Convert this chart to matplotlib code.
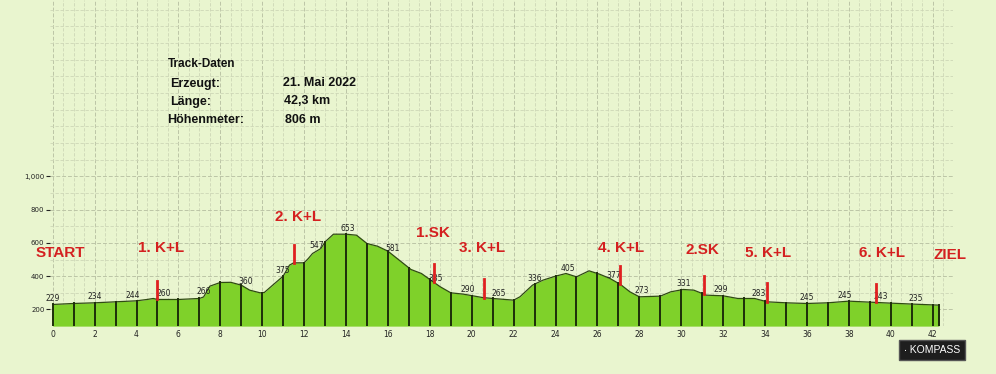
import numpy as np
import matplotlib.pyplot as plt
from matplotlib.ticker import MultipleLocator, FuncFormatter

# elevation profile (km, m)
km = [0, 1, 2, 3, 4, 4.5, 4.8, 5, 6, 7, 7.2, 7.5, 8, 8.5, 9.0, 9.4, 9.9, 10.1, 10.5,
      11, 11.3, 11.5, 12, 12.2, 12.4, 12.8, 13.0, 13.4, 14, 14.5, 15.0, 15.5, 16,
      16.5, 17.1, 17.6, 18.0, 18.5, 19.0, 19.6, 20.5, 21.0, 22.0, 22.3, 22.9, 23.4,
      24.0, 24.5, 25.0, 25.6, 26.1, 26.6, 27.1, 27.55, 28.0, 29.0, 29.5, 30.1, 30.6,
      31.2, 32.0, 32.7, 33.5, 34.1, 35.0, 36.0, 37.0, 38.0, 39.0, 40.0, 41.1, 42.3]
elev = [230, 236, 240, 246, 252, 260, 266, 260, 260, 266, 275, 340, 362, 363, 346, 316,
        300, 302, 346, 400, 466, 480, 480, 506, 536, 566, 606, 652, 652, 646, 596, 580,
        550, 500, 440, 416, 380, 336, 300, 292, 272, 266, 256, 276, 346, 376,
        400, 416, 396, 432, 412, 386, 350, 306, 276, 280, 306, 320, 316,
        286, 282, 266, 266, 246, 240, 236, 240, 250, 244, 238, 232, 226]

# point labels
lab_km = [0, 2, 3.8, 5.3, 7.2, 9.2, 11.0, 12.6, 14.1, 16.2, 18.3, 19.8, 21.3, 23.0,
          24.6, 26.8, 28.1, 30.1, 31.9, 33.7, 36.0, 37.8, 39.5, 41.2]
lab_val = [229, 234, 244, 260, 266, 360, 375, 547, 653, 581, 385, 290, 265, 336,
           405, 377, 273, 331, 299, 283, 245, 245, 243, 235]

# stations (red markers) and their captions
mark_km = [5.0, 11.5, 18.2, 20.6, 27.1, 31.1, 34.1, 39.3]
cap_txt = ['START', '1. K+L', '2. K+L', '1.SK', '3. K+L', '4. K+L', '2.SK', '5. K+L',
           '6. K+L', 'ZIEL']
cap_km = [0.35, 5.17, 11.69, 18.15, 20.49, 27.13, 31.02, 34.14, 39.59, 42.83]
cap_y = [538, 568, 754, 661, 568, 571, 556, 541, 541, 526]

info_keys = ['Erzeugt:', 'Länge:', 'Höhenmeter:']
info_vals = ['21. Mai 2022', '42,3 km', '806 m']

bg = '#e9f5cf'
fig = plt.figure(figsize=(9.96, 3.74), dpi=100, facecolor=bg)
ax = fig.add_axes([0.0502, 0.128, 0.9066, 0.872], facecolor=bg)
base = 100
ax.set_xlim(-0.13, 42.97)
ax.set_ylim(base, 2058)

# grid
ax.xaxis.set_minor_locator(MultipleLocator(0.5))
ax.yaxis.set_minor_locator(MultipleLocator(100))
ax.grid(which='minor', color='#cdd6b6', lw=0.6, ls=(0, (4, 2)))
ax.grid(which='major', color='#bcc5a6', lw=0.7, ls=(0, (4, 2)))
ax.set_axisbelow(True)

ax.fill_between(km, elev, base, color='#7fd12a', lw=0, zorder=2)
ax.plot(km, elev, color='#2f4a12', lw=0.9, zorder=3)
for k in range(43):
    e = np.interp(k, km, elev)
    ax.plot([k, k], [base, e], color='#1d2e0a', lw=1.4, zorder=3)
ax.plot([42.3, 42.3], [base, elev[-1]], color='#1d2e0a', lw=1.4, zorder=3)

for k, v in zip(lab_km, lab_val):
    ax.text(k, np.interp(k, km, elev) + 8, str(v), fontsize=5.5, ha='center',
            va='bottom', color='#222222', zorder=4)

for k in mark_km:
    e = np.interp(k, km, elev)
    ax.plot([k, k], [e, e + 110], color='#e02020', lw=2, zorder=4)

for k, y, t in zip(cap_km, cap_y, cap_txt):
    ax.text(k, y, t, fontsize=11, color='#d42020', ha='center', va='center',
            fontweight='bold', family='Liberation Sans', clip_on=False)

# info block
tf = dict(fontsize=9, fontweight='bold', family='Liberation Sans', color='#111111',
          transform=fig.transFigure, va='center')
fig.text(168 / 996, 1 - 64 / 374, 'Track-Daten', **dict(tf, fontsize=8.5))
for i, (a, b) in enumerate(zip(info_keys, info_vals)):
    y = 1 - (83.5 + 18 * i) / 374
    fig.text((170 - 3 * (i == 2)) / 996, y, a, **tf)
    fig.text((283 + 1 * i) / 996, y, b, **tf)

# ticks
ax.set_xticks(range(0, 43, 2))
ax.set_yticks([200, 400, 600, 800, 1000])
ax.yaxis.set_major_formatter(FuncFormatter(lambda v, p: f'{int(v):,}'))
ax.tick_params(axis='x', length=0, labelsize=5.5, pad=3, colors='#222222')
ax.tick_params(axis='y', length=3, width=0.8, labelsize=5, pad=1, colors='#222222')
ax.tick_params(which='minor', length=0)
for s in ax.spines.values():
    s.set_visible(False)

# logo
fig.text(932 / 996, 1 - 350 / 374, '\u2219 KOMPASS', fontsize=7.5, color='white',
         ha='center', va='center', family='Liberation Sans',
         bbox=dict(boxstyle='square,pad=0.45', fc='#1e1e1e', ec='#555555'))

fig.savefig('out.png', dpi=100, facecolor=bg)
